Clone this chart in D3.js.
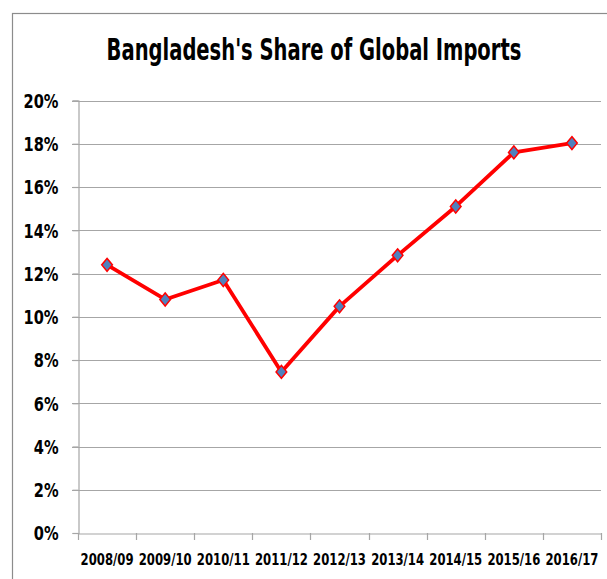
<!DOCTYPE html>
<html><head><meta charset="utf-8">
<script src="https://cdn.jsdelivr.net/npm/d3@7/dist/d3.min.js"></script>
<style>
html,body{margin:0;padding:0;background:#fff;}
text{font-family:"DejaVu Sans Condensed","DejaVu Sans",sans-serif;font-weight:bold;fill:#000;}
</style></head>
<body>
<svg id="c" width="607" height="579"></svg>
<script>
const title = "Bangladesh's Share of Global Imports";
const categories = ["2008/09","2009/10","2010/11","2011/12","2012/13","2013/14","2014/15","2015/16","2016/17"];
const shares = [12.4, 10.8, 11.7, 7.45, 10.48, 12.84, 15.1, 17.6, 18.03];
const yTicks = [0,2,4,6,8,10,12,14,16,18,20];

const svg = d3.select("#c");
const W = 607, H = 579;
svg.append("rect").attr("width",W).attr("height",H).attr("fill","#fff");
svg.append("rect").attr("x",12.5).attr("y",13.5).attr("width",W+10).attr("height",H+10)
  .attr("fill","none").attr("stroke","#8c8c8c").attr("stroke-width",1.2);

const m = {left:78, right:601, top:100.5, bottom:533};
const x = d3.scaleBand().domain(categories).range([m.left,m.right]);
const y = d3.scaleLinear().domain([0,20]).range([m.bottom,m.top]);

// narrow text horizontally (Calibri-like look) via a transform around its anchor x
function squeeze(sel, factor){
  sel.each(function(){
    const el = d3.select(this);
    const x0 = +(el.attr("x")||0);
    el.attr("x", x0/factor).attr("transform", `scale(${factor},1)`);
  });
}

// gridlines
svg.append("g").selectAll("line").data(yTicks.filter(d=>d>0)).join("line")
  .attr("x1",72).attr("x2",m.right).attr("y1",d=>Math.round(y(d))+0.5).attr("y2",d=>Math.round(y(d))+0.5)
  .attr("stroke","#a6a6a6").attr("stroke-width",1.2);

// y axis
const ya = svg.append("g").attr("transform",`translate(${m.left+0.5},0)`)
  .call(d3.axisLeft(y).tickValues(yTicks).tickFormat(d=>d+"%").tickSize(6).tickPadding(14));
ya.select(".domain").attr("stroke","#a6a6a6").attr("stroke-width",1.2);
ya.selectAll(".tick line").attr("stroke","#a6a6a6").attr("stroke-width",1.2);
const yl = ya.selectAll("text").attr("font-size",19).attr("font-family",null).attr("fill","#000").attr("dy","0.36em");
{
  const ref = yl.filter(d=>d===20).node().getComputedTextLength();
  squeeze(yl, 35/ref);
}

// x axis
const xa = svg.append("g").attr("transform",`translate(0,${Math.round(m.bottom)+0.5})`)
  .call(d3.axisBottom(x).tickSize(0).tickPadding(0));
xa.select(".domain").attr("stroke","#a6a6a6").attr("stroke-width",1.2);
xa.selectAll(".tick line").remove();
const xl = xa.selectAll("text").attr("font-size",16).attr("font-family",null).attr("fill","#000")
  .attr("dy",null).attr("y",32);
{
  const ref = xl.node().getComputedTextLength();
  squeeze(xl, 53/ref);
}
const bounds = categories.map(c=>x(c)).concat([m.right]);
svg.append("g").selectAll("line").data(bounds).join("line")
  .attr("x1",d=>Math.round(d)+0.5).attr("x2",d=>Math.round(d)+0.5)
  .attr("y1",m.bottom).attr("y2",m.bottom+7)
  .attr("stroke","#a6a6a6").attr("stroke-width",1.2);

// line
const cx = d=>x(d)+x.bandwidth()/2;
svg.append("path").datum(categories.map((c,i)=>[cx(c),y(shares[i])]))
  .attr("d",d3.line()).attr("fill","none").attr("stroke","#ff0000").attr("stroke-width",3.8)
  .attr("stroke-linejoin","round");

// markers
svg.append("g").selectAll("path").data(categories).join("path")
  .attr("d",d3.symbol(d3.symbolDiamond2,90))
  .attr("transform",(c,i)=>`translate(${cx(c)},${y(shares[i])}) scale(0.9,1.1)`)
  .attr("fill","#4f81bd").attr("stroke","#ff0000").attr("stroke-width",1.5);

// title
const t = svg.append("text").attr("x",314).attr("y",60).attr("text-anchor","middle")
  .attr("font-size",30).text(title);
squeeze(t, 415/t.node().getComputedTextLength());
</script>
</body></html>
